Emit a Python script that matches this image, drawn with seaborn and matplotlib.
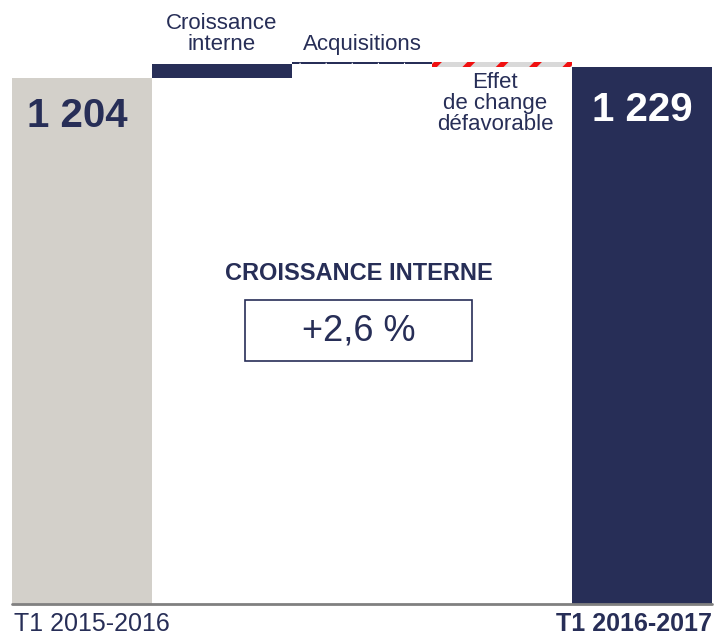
import matplotlib
matplotlib.use("Agg")
import matplotlib.pyplot as plt
import matplotlib.patches as mpatches
import seaborn as sns
import pandas as pd
import numpy as np

# ---- data ----
categories = ["T1 2015-2016", "Croissance interne", "Acquisitions",
              "Effet de change défavorable", "T1 2016-2017"]
steps = [1204, 31, 5, -11, 1229]           # start, deltas, end
is_total = [True, False, False, False, True]
top_labels = ["", "Croissance\ninterne", "Acquisitions", "", ""]
value_labels = ["1 204", "", "", "", "1 229"]
growth_title = "CROISSANCE INTERNE"
growth_value = "+2,6 %"

# ---- waterfall geometry from data ----
bottoms, heights = [], []
running = 0
for v, tot in zip(steps, is_total):
    if tot:
        bottoms.append(0)
        heights.append(v)
        running = v
    else:
        if v >= 0:
            bottoms.append(running)
            heights.append(v)
        else:
            bottoms.append(running + v)
            heights.append(-v)
        running += v

df = pd.DataFrame({"cat": categories, "height": heights})

NAVY = "#272e57"
GREY = "#d3d0ca"
colors = [GREY, NAVY, NAVY, "#d9d9d9", NAVY]

sns.set_theme(style="white")
plt.rcParams["font.family"] = ["Liberation Sans", "DejaVu Sans"]
plt.rcParams["hatch.linewidth"] = 4.0

fig = plt.figure(figsize=(7.19, 6.36), dpi=100)
W, H = 719, 636
ax = fig.add_axes([12 / W, 32 / H, 700 / W, 604 / H])

sns.barplot(data=df, x="cat", y="height", ax=ax, width=1.0,
            color=NAVY, linewidth=0, bottom=bottoms, saturation=1)

for p, c in zip(ax.patches, colors):
    p.set_facecolor(c)
    p.set_linewidth(0)
# hatched FX bar
fx = ax.patches[3]
fx.set_hatch("/")
fx.set_edgecolor("#f01010")
fx.set_linewidth(0)

ax.set_xlim(-0.5, 4.5)
ax.set_ylim(0, 1382)
ax.axis("off")

# baseline
ax.axhline(0, color="#808080", lw=2.0, clip_on=False, zorder=5)

# dotted line inside acquisitions bar
acq_mid = bottoms[2] + heights[2] / 2
ax.plot([2 - 0.45, 2 + 0.45], [acq_mid, acq_mid], color="white",
        lw=1.0, ls=(0, (0.8, 18)), zorder=4, solid_capstyle="butt",
        dash_capstyle="butt")

# category labels above bars
for i, lab in enumerate(top_labels):
    if lab:
        ax.text(i, 1256, lab, ha="center", va="bottom", fontsize=16,
                color=NAVY, linespacing=1.0)

# FX label below bar
ax.text(3 - 0.05, 1218, "Effet\nde change\ndéfavorable", ha="center",
        va="top", fontsize=16, color=NAVY, linespacing=1.02)

# values
ax.text(0 - 0.035, 1117, value_labels[0], ha="center", va="center",
        fontsize=29, fontweight="bold", color=NAVY)
ax.text(4, 1131, value_labels[4], ha="center", va="center",
        fontsize=29, fontweight="bold", color="white")

# central annotation
ax.text(0.496, 0.547, growth_title, transform=ax.transAxes, ha="center",
        va="center", fontsize=17, fontweight="bold", color=NAVY)
rect = mpatches.Rectangle((0.333, 0.403), 0.324, 0.101, transform=ax.transAxes,
                          fill=False, edgecolor=NAVY, lw=1.2)
ax.add_patch(rect)
ax.text(0.495, 0.452, growth_value, transform=ax.transAxes, ha="center",
        va="center", fontsize=26, color=NAVY)

# bottom labels
fig.text(14 / W, 1 - 631 / H, categories[0], ha="left", va="baseline",
         fontsize=18, color=NAVY)
fig.text(712 / W, 1 - 631 / H, categories[4], ha="right", va="baseline",
         fontsize=18, fontweight="bold", color=NAVY)

fig.savefig("out.png", dpi=100)
